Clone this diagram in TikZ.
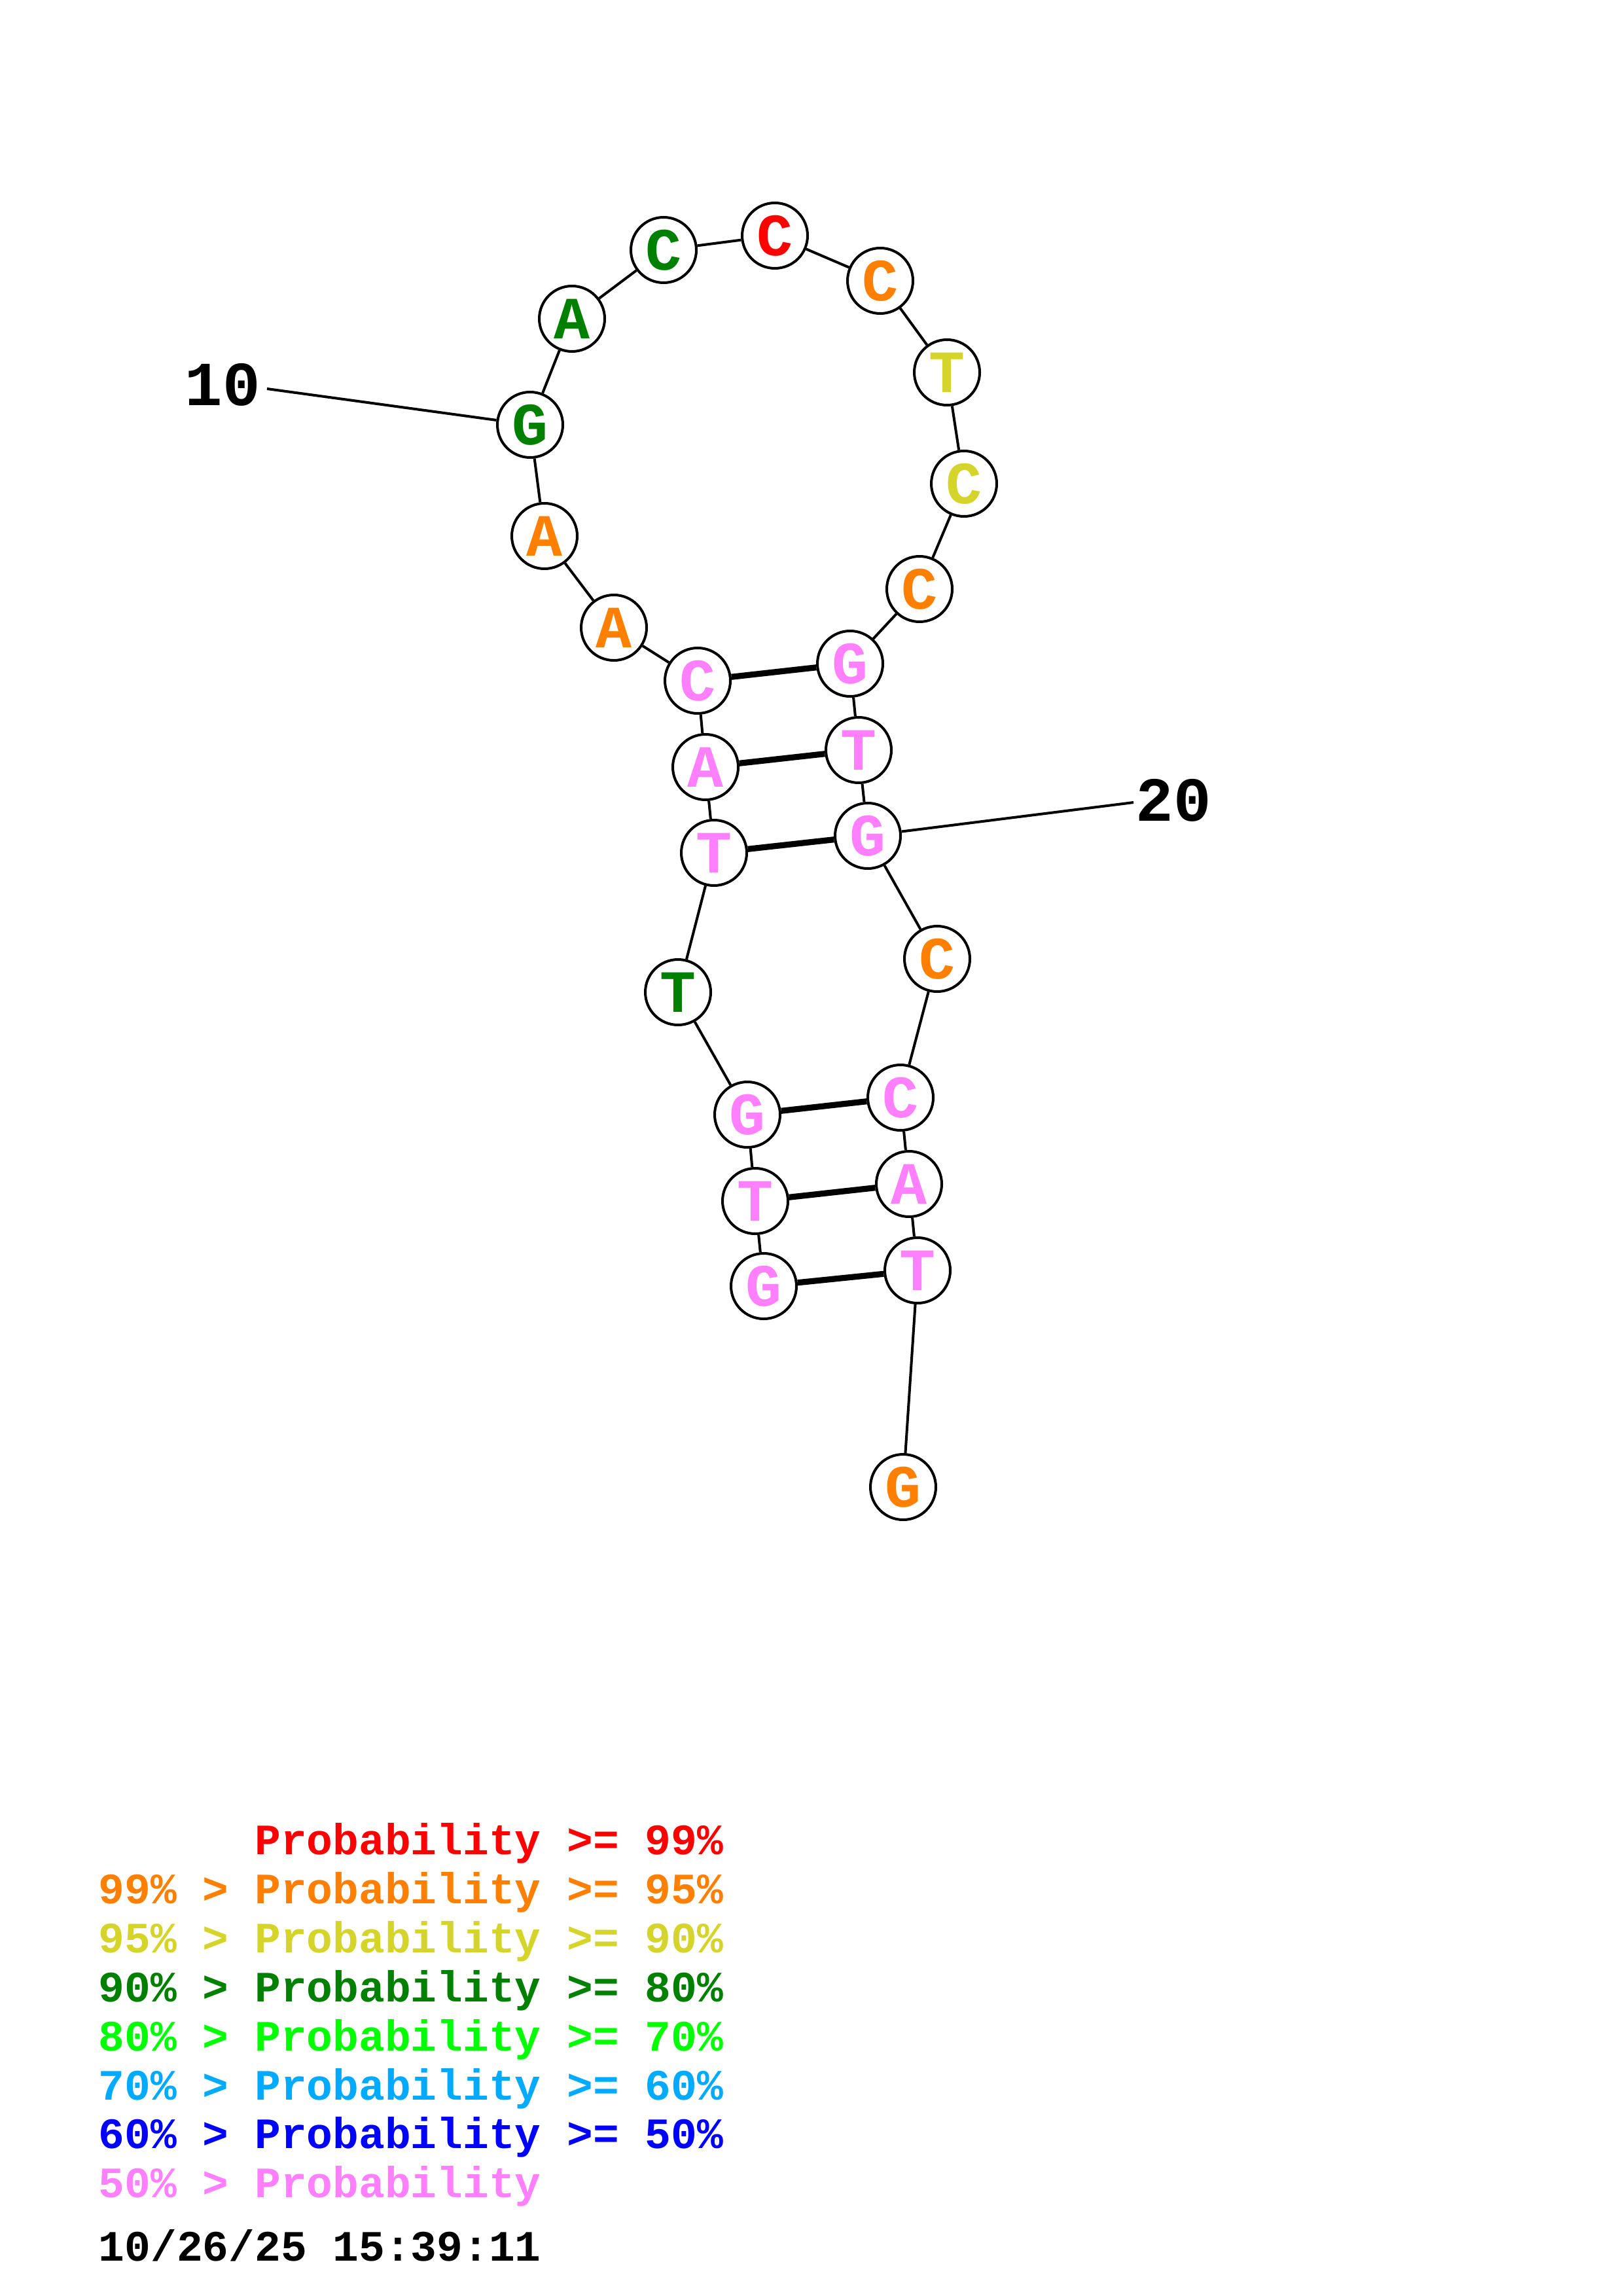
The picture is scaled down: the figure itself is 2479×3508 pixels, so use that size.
\documentclass[tikz,border=0pt]{standalone}
\usepackage{fontspec}
\setmonofont{Liberation Mono}
\definecolor{cRed}{RGB}{255,0,0}
\definecolor{cOrange}{RGB}{255,128,0}
\definecolor{cYellow}{RGB}{212,212,42}
\definecolor{cDGreen}{RGB}{0,128,0}
\definecolor{cGreen}{RGB}{0,255,0}
\definecolor{cLBlue}{RGB}{0,170,255}
\definecolor{cBlue}{RGB}{0,0,255}
\definecolor{cPink}{RGB}{255,128,255}
\begin{document}
\begin{tikzpicture}[x=0.24pt,y=-0.24pt,
  base/.style={circle, draw=black, fill=white, line width=0.96pt, minimum size=24pt, inner sep=0pt,
    font=\fontsize{22}{22}\selectfont\ttfamily\bfseries},
  bb/.style={line width=0.96pt},
  pair/.style={line width=2.2pt},
  lbl/.style={anchor=base west, inner sep=0pt, font=\fontsize{23}{23}\selectfont\ttfamily\bfseries},
  leg/.style={anchor=base west, inner sep=0pt, font=\fontsize{15.9}{15.9}\selectfont\ttfamily\bfseries}]
\useasboundingbox (0,0) rectangle (2479,3508);
% nucleotides
\node[base, text=cPink]   (n1)  at (1167,1965) {G};
\node[base, text=cPink]   (n2)  at (1154,1835) {T};
\node[base, text=cPink]   (n3)  at (1142,1703) {G};
\node[base, text=cDGreen] (n4)  at (1036,1516) {T};
\node[base, text=cPink]   (n5)  at (1091,1303) {T};
\node[base, text=cPink]   (n6)  at (1078,1172) {A};
\node[base, text=cPink]   (n7)  at (1066,1040) {C};
\node[base, text=cOrange] (n8)  at (938,959)   {A};
\node[base, text=cOrange] (n9)  at (832,819)   {A};
\node[base, text=cDGreen] (n10) at (810,649)   {G};
\node[base, text=cDGreen] (n11) at (874,487)   {A};
\node[base, text=cDGreen] (n12) at (1014,382)  {C};
\node[base, text=cRed]    (n13) at (1184,360)  {C};
\node[base, text=cOrange] (n14) at (1345,429)  {C};
\node[base, text=cYellow] (n15) at (1447,569)  {T};
\node[base, text=cYellow] (n16) at (1473,739)  {C};
\node[base, text=cOrange] (n17) at (1405,900)  {C};
\node[base, text=cPink]   (n18) at (1299,1014) {G};
\node[base, text=cPink]   (n19) at (1312,1146) {T};
\node[base, text=cPink]   (n20) at (1326,1277) {G};
\node[base, text=cOrange] (n21) at (1432,1465) {C};
\node[base, text=cPink]   (n22) at (1376,1677) {C};
\node[base, text=cPink]   (n23) at (1389,1809) {A};
\node[base, text=cPink]   (n24) at (1402,1941) {T};
\node[base, text=cOrange] (n25) at (1380,2272) {G};
% backbone
\foreach \a/\b in {1/2,2/3,3/4,4/5,5/6,6/7,7/8,8/9,9/10,10/11,11/12,12/13,13/14,14/15,15/16,16/17,17/18,18/19,19/20,20/21,21/22,22/23,23/24,24/25}
  \draw[bb] (n\a) -- (n\b);
% base pairs
\foreach \a/\b in {7/18,6/19,5/20,3/22,2/23,1/24}
  \draw[pair] (n\a) -- (n\b);
% position labels
\node[lbl] (l10) at (282,620) {10};
\coordinate (e10) at (408,594);
\draw[bb] (e10) -- (n10);
\node[lbl] (l20) at (1735,1254) {20};
\coordinate (e20) at (1732,1226);
\draw[bb] (n20) -- (e20);
% legend
\node[leg, text=cRed]    (g1) at (150,2833) {\hphantom{99\% > }Probability >= 99\%};
\node[leg, text=cOrange] (g2) at (150,2908) {99\% > Probability >= 95\%};
\node[leg, text=cYellow] (g3) at (150,2983) {95\% > Probability >= 90\%};
\node[leg, text=cDGreen] (g4) at (150,3058) {90\% > Probability >= 80\%};
\node[leg, text=cGreen]  (g5) at (150,3133) {80\% > Probability >= 70\%};
\node[leg, text=cLBlue]  (g6) at (150,3208) {70\% > Probability >= 60\%};
\node[leg, text=cBlue]   (g7) at (150,3282) {60\% > Probability >= 50\%};
\node[leg, text=cPink]   (g8) at (150,3357) {50\% > Probability};
\node[leg, text=black]   (dt) at (150,3454) {10/26/25 15:39:11};
\end{tikzpicture}
\end{document}
